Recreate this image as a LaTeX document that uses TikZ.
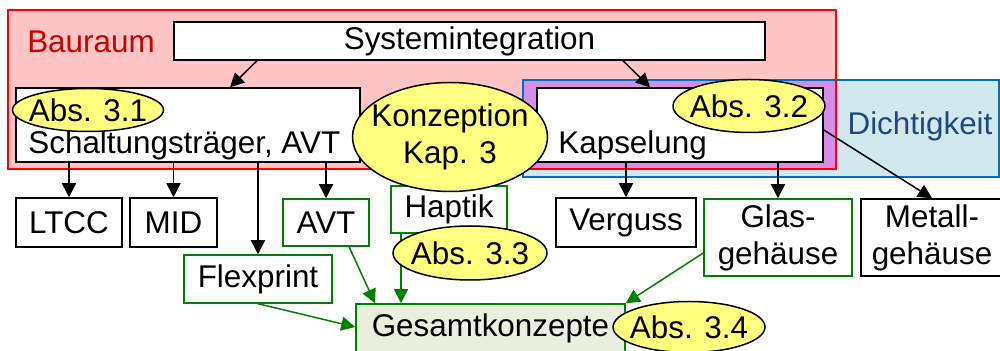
\documentclass[tikz,border=0pt]{standalone}
\usepackage{fontspec}
\setmainfont{Liberation Sans}
\usetikzlibrary{arrows.meta, positioning, calc, shapes.geometric}
\definecolor{bauraumfill}{RGB}{255,196,196}
\definecolor{bauraumline}{RGB}{255,0,0}
\definecolor{bauraumtext}{RGB}{204,0,0}
\definecolor{dichtfill}{RGB}{208,232,238}
\definecolor{dichtline}{RGB}{0,112,192}
\definecolor{dichttext}{RGB}{31,73,125}
\definecolor{overlapfill}{RGB}{214,142,232}
\definecolor{absyellow}{RGB}{255,255,128}
\definecolor{gesamtfill}{RGB}{235,240,222}
\definecolor{konzgreen}{RGB}{0,128,0}

\begin{document}
\begin{tikzpicture}[
    x=0.5pt, y=-0.5pt,
    every node/.style={font=\fontsize{15.7}{18.5}\selectfont},
    region/.style={rectangle, inner sep=0pt, outer sep=0pt},
    box/.style={rectangle, draw=black, fill=white, line width=0.75pt, inner sep=0pt, text centered},
    greenbox/.style={box, draw=konzgreen},
    bubble/.style={ellipse, draw=black, fill=absyellow, line width=0.75pt, inner xsep=-5pt, inner ysep=-3pt, align=center},
    arrow/.style={line width=0.75pt, -{Triangle[length=7pt,width=7pt]}},
    greenarrow/.style={arrow, draw=konzgreen, fill=konzgreen}
]
    \useasboundingbox (0,0) rectangle (1000,351);

    \node[region, fill=bauraumfill, minimum width=414pt, minimum height=79.5pt] (bauraum) at (422,89.5) {};
    \node[region, fill=dichtfill, minimum width=238pt, minimum height=48.5pt] (dicht) at (761,128.5) {};
    \fill[overlapfill] (dicht.north west) rectangle (bauraum.south east);
    \draw[dichtline, line width=0.75pt] (dicht.north west) rectangle (dicht.south east);
    \draw[bauraumline, line width=0.75pt] (bauraum.north west) rectangle (bauraum.south east);
    \node[text=bauraumtext] (bauraumlabel) at (91,42) {Bauraum};
    \node[text=dichttext] (dichtlabel) at (920,126) {Dichtigkeit};

    \node[box, minimum width=295.5pt, minimum height=19pt] (sysint) at (469.5,41) {Systemintegration};
    \node[box, minimum width=172pt, minimum height=37pt] (schalt) at (188,125) {};
    \node[anchor=west, inner sep=0pt] (schalttext) at (28,145) {Schaltungsträger, AVT};
    \node[box, minimum width=143pt, minimum height=37pt] (kapsel) at (680,125) {};
    \node[anchor=west, inner sep=0pt] (kapseltext) at (558,145) {Kapselung};

    \node[box, minimum width=53pt, minimum height=24.5pt] (ltcc) at (69,222.5) {LTCC};
    \node[box, minimum width=43.5pt, minimum height=24.5pt] (mid) at (173.5,222.5) {MID};
    \node[greenbox, minimum width=43pt, minimum height=23.5pt] (avt) at (326,222.5) {AVT};
    \node[greenbox, minimum width=74pt, minimum height=24pt] (flex) at (258,279) {Flexprint};
    \node[greenbox, minimum width=58pt, minimum height=23.5pt] (haptik) at (449,209.5) {Haptik};
    \node[box, minimum width=70pt, minimum height=24.5pt] (verguss) at (626,222.5) {Verguss};
    \node[greenbox, minimum width=74pt, minimum height=38.5pt, align=center] (glas) at (778,237.5) {Glas-\\gehäuse};
    \node[box, minimum width=71pt, minimum height=38.5pt, align=center] (metall) at (932,237.5) {Metall-\\gehäuse};
    \node[greenbox, fill=gesamtfill, minimum width=134.5pt, minimum height=24pt] (gesamt) at (490.5,328) {Gesamtkonzepte};

    \draw[arrow] ([xshift=-106.25pt]sysint.south) -- ([xshift=21pt]schalt.north);
    \draw[arrow] ([xshift=76.75pt]sysint.south) -- ([xshift=-15pt]kapsel.north);
    \draw[arrow] (schalt.south -| ltcc.north) -- (ltcc.north);
    \draw[arrow] (schalt.south -| mid.north) -- (mid.north);
    \draw[arrow] (schalt.south -| flex.north) -- (flex.north);
    \draw[arrow] (schalt.south -| avt.north) -- (avt.north);
    \draw[arrow] (kapsel.south -| verguss.north) -- (verguss.north);
    \draw[arrow] (kapsel.south -| glas.north) -- (glas.north);
    \draw[arrow] ([yshift=-2.5pt]kapsel.east) -- (metall.north);

    \draw[greenarrow] ([xshift=11.5pt]avt.south) -- ([xshift=-57.75pt]gesamt.north);
    \draw[greenarrow] ([xshift=-24pt]haptik.south) -- ([xshift=-44.75pt]gesamt.north);
    \draw[greenarrow] (flex.south) -- ([yshift=0.5pt]gesamt.west);
    \draw[greenarrow] ([yshift=-7.75pt]glas.west) -- (gesamt.north east);

    \node[bubble, minimum width=75.5pt, minimum height=21.5pt] (abs31) at (88,110) {Abs. 3.1};
    \node[bubble, minimum width=97.5pt, minimum height=54.5pt] (konzeption) at (450,137) {Konzeption\\Kap. 3};
    \node[bubble, minimum width=76pt, minimum height=26.5pt] (abs32) at (749,106) {Abs. 3.2};
    \node[bubble, minimum width=77pt, minimum height=27pt] (abs33) at (470,253) {Abs. 3.3};
    \node[bubble, minimum width=76pt, minimum height=25.5pt] (abs34) at (689,327) {Abs. 3.4};

\end{tikzpicture}
\end{document}
